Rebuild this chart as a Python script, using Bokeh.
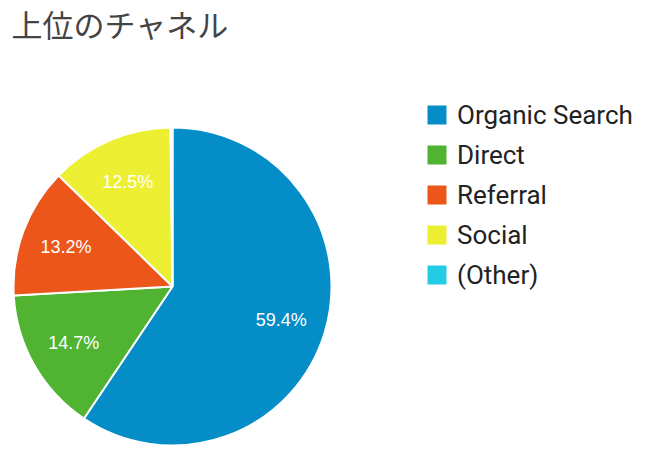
import math
from bokeh.plotting import figure
from bokeh.models import Range1d, ColumnDataSource
from bokeh.core.properties import value
from bokeh.embed import file_html
from bokeh.resources import INLINE

title_text = "上位のチャネル"
channels = ["Organic Search", "Direct", "Referral", "Social", "(Other)"]
shares = [59.4, 14.7, 13.2, 12.5, 0.2]
colors = ["#058dc7", "#50b432", "#ed561b", "#edef33", "#24cbe5"]
label_texts = ["59.4%", "14.7%", "13.2%", "12.5%", ""]

W, H = 640, 458
p = figure(width=W, height=H, output_backend="svg", toolbar_location=None,
           x_range=Range1d(0, W), y_range=Range1d(0, H),
           min_border=0, outline_line_color=None)
p.axis.visible = False
p.grid.visible = False
p.background_fill_color = "white"
p.border_fill_color = "white"

cx, cy, R = 172, 172, 159
total = sum(shares)
starts, ends, lx, ly = [], [], [], []
cum = 0.0
for s in shares:
    a0 = math.pi / 2 - 2 * math.pi * cum / total
    cum += s
    a1 = math.pi / 2 - 2 * math.pi * cum / total
    starts.append(a0)
    ends.append(a1)
    mid = (a0 + a1) / 2
    lx.append(cx + 0.715 * R * math.cos(mid))
    ly.append(cy + 0.715 * R * math.sin(mid))

src = ColumnDataSource(dict(start=starts, end=ends, color=colors,
                            name=channels, lab=label_texts, lx=lx, ly=ly))
p.wedge(x=cx, y=cy, radius=R, start_angle="start", end_angle="end",
        direction="clock", fill_color="color", line_color="white",
        line_width=2, source=src)
p.text(x="lx", y="ly", text="lab", source=src, text_color="white",
       text_font=value("Liberation Sans"), text_font_size="18px",
       text_align="center", text_baseline="middle")

# title
p.text(x=[11], y=[H], text=[title_text], text_color="#444444",
       text_font=value("Noto Sans CJK JP"), text_font_size="31px",
       text_align="left", text_baseline="top")

# legend
lg_x, lg_y0, lg_dy = 436.5, 343.5, 40
ys = [lg_y0 - i * lg_dy for i in range(len(channels))]
lsrc = ColumnDataSource(dict(y=ys, name=channels, color=colors))
p.rect(x=lg_x, y="y", width=19, height=19, width_units="screen",
       height_units="screen", fill_color="color", line_color=None, source=lsrc)
p.text(x=lg_x + 20, y="y", text="name", source=lsrc, text_color="#222222",
       text_font=value("Roboto"), text_font_size="26px",
       text_align="left", text_baseline="middle")

open("out.html", "w").write(file_html(p, INLINE))
